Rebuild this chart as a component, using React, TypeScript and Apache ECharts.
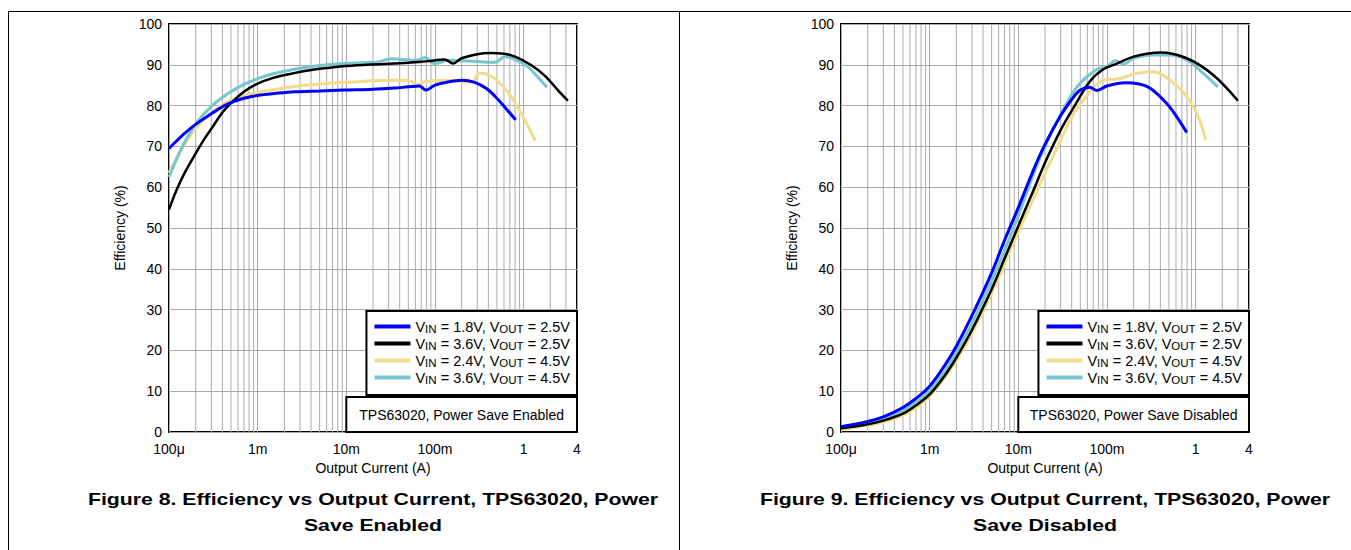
import React, { useEffect, useRef } from "react";
import * as echarts from "echarts";

const FONT = '"Liberation Sans", Arial, Helvetica, sans-serif';

const SERIES_NAMES = ["b", "k", "y", "c"];
const LEGEND_VIN = ["1.8V", "3.6V", "2.4V", "3.6V"];
const LEGEND_VOUT = ["2.5V", "2.5V", "4.5V", "4.5V"];
const COLORS = ["#0000ff", "#000000", "#f0dc8a", "#78c5cd"];

const X_TICK_VALUES = [1e-4, 1e-3, 1e-2, 1e-1, 1, 4];
const X_TICK_LABELS = ["100μ", "1m", "10m", "100m", "1", "4"];

// Figure 8 - Power Save Enabled
const blueEnabled = [
  [1e-4, 69.5], [1.2e-4, 71.2], [1.5e-4, 73.2], [2e-4, 75.4], [3e-4, 78], [4.5e-4, 80.3],
  [7e-4, 81.8], [1e-3, 82.5], [1.6e-3, 83], [2.6e-3, 83.4], [5e-3, 83.6], [9.4e-3, 83.8],
  [2e-2, 84], [3.5e-2, 84.3], [5e-2, 84.6], [6.7e-2, 84.8], [7.9e-2, 83.8], [0.1, 85],
  [0.14, 85.8], [0.2, 86.2], [0.28, 85.7], [0.38, 84.2], [0.475, 82.3], [0.62, 79.5], [0.815, 76.5],
];
const blackEnabled = [
  [1e-4, 54.5], [1.2e-4, 59], [1.5e-4, 63.5], [2e-4, 68.3], [2.5e-4, 71.8], [3e-4, 74.3],
  [4e-4, 78.3], [5e-4, 80.6], [7e-4, 83.4], [1e-3, 85.4], [1.5e-3, 86.8], [2.5e-3, 87.9],
  [4e-3, 88.7], [6e-3, 89.2], [1e-2, 89.7], [2e-2, 90.1], [5e-2, 90.5], [8.3e-2, 90.9],
  [0.128, 91.3], [0.16, 90.3], [0.2, 91.6], [0.3, 92.6], [0.42, 92.9], [0.6, 92.7], [0.8, 92],
  [1.2, 90], [1.74, 87.3], [2.5, 83.5], [3.16, 81.2],
];
const yellowEnabled = [
  [1e-4, 63.5], [1.2e-4, 67], [1.5e-4, 70.5], [2e-4, 74.3], [3e-4, 78.2], [4.5e-4, 80.8],
  [7e-4, 82.4], [1e-3, 83.2], [1.6e-3, 84], [2.6e-3, 84.7], [5e-3, 85.3], [9.4e-3, 85.7],
  [3.5e-2, 86.2], [4.9e-2, 86.2], [6.4e-2, 85.2], [7.7e-2, 85.9], [0.128, 86.2], [0.258, 85.7],
  [0.32, 88], [0.475, 86.6], [0.73, 82.1], [1.04, 76.3], [1.35, 71.4],
];
const cyanEnabled = [
  [1e-4, 62.5], [1.2e-4, 66.5], [1.5e-4, 71], [2e-4, 75.5], [3e-4, 79.8], [4.5e-4, 82.8],
  [7e-4, 85.2], [1e-3, 86.6], [1.5e-3, 87.8], [2.6e-3, 88.9], [6e-3, 90], [1.5e-2, 90.5],
  [2.26e-2, 90.7], [3.2e-2, 91.5], [5.9e-2, 91.1], [7.7e-2, 91.7], [9.9e-2, 90.3], [0.14, 91.1],
  [0.3, 90.8], [0.475, 90.6], [0.62, 92], [0.8, 91.3], [1.12, 89.5], [1.4, 87.3], [1.83, 84.5],
];

// Figure 9 - Power Save Disabled
const blueDisabled = [
  [1e-4, 1.3], [2e-4, 2.6], [3e-4, 3.7], [5e-4, 6], [7e-4, 8.2], [1e-3, 11.2], [1.5e-3, 16.5],
  [2e-3, 21], [3e-3, 28.5], [5e-3, 39], [7e-3, 47], [1e-2, 55], [1.5e-2, 64.5], [2e-2, 70.5],
  [3e-2, 77.5], [4e-2, 81.5], [5e-2, 83.8], [6.4e-2, 84.5], [7.7e-2, 83.7], [0.1, 84.8],
  [0.16, 85.6], [0.23, 85.3], [0.31, 84.2], [0.47, 80.6], [0.61, 77.3], [0.795, 73.4],
];
const blackDisabled = [
  [1e-4, 0.9], [2e-4, 1.9], [3e-4, 2.8], [5e-4, 4.5], [7e-4, 6.5], [1e-3, 9.2], [1.5e-3, 14],
  [2e-3, 18.2], [3e-3, 25], [5e-3, 35], [7e-3, 42.5], [1e-2, 50.5], [1.5e-2, 59.5], [2e-2, 66],
  [3e-2, 74], [4.2e-2, 79.5], [6.45e-2, 86], [9.1e-2, 88.9], [0.13, 90.3], [0.2, 92],
  [0.4, 93], [0.795, 91.6], [1.58, 87.5], [3.0, 81.2],
];
const yellowDisabled = [
  [1e-4, 0.7], [2e-4, 1.6], [3e-4, 2.5], [5e-4, 4.1], [7e-4, 6], [1e-3, 8.8], [1.5e-3, 13.5],
  [2e-3, 17.6], [3e-3, 24.2], [5e-3, 34], [7e-3, 41.3], [1e-2, 49], [1.5e-2, 57.5], [2e-2, 63.5],
  [3e-2, 71.5], [4.2e-2, 78], [5.5e-2, 81.5], [7.1e-2, 84.6], [0.1, 86.4], [0.119, 86.4],
  [0.216, 87.9], [0.333, 88.3], [0.51, 86.3], [0.795, 82.2], [1.07, 77.3], [1.3, 71.6],
];
const cyanDisabled = [
  [1e-4, 1.1], [2e-4, 2.2], [3e-4, 3.3], [5e-4, 5.3], [7e-4, 7.2], [1e-3, 10], [1.5e-3, 15],
  [2e-3, 19.5], [3e-3, 26.5], [5e-3, 37], [7e-3, 44.5], [1e-2, 53], [1.5e-2, 63.5], [2e-2, 70],
  [3e-2, 77.8], [4.6e-2, 84.6], [7.7e-2, 88.9], [0.1, 89.5], [0.124, 91], [0.154, 90.2],
  [0.2, 91.6], [0.333, 92.4], [0.51, 92.4], [0.795, 91.2], [1.22, 87.9], [1.78, 84.6],
];

const ENABLED = [blueEnabled, blackEnabled, yellowEnabled, cyanEnabled];
const DISABLED = [blueDisabled, blackDisabled, yellowDisabled, cyanDisabled];

const CAPTIONS = [
  "Figure 8. Efficiency vs Output Current, TPS63020, Power\nSave Enabled",
  "Figure 9. Efficiency vs Output Current, TPS63020, Power\nSave Disabled",
];
const NOTES = ["TPS63020, Power Save Enabled", "TPS63020, Power Save Disabled"];

const X_MIN = 1e-4;
const X_MAX = 4;
const Y_MIN = 0;
const Y_MAX = 100;

// minor grid positions (2..9 times each decade)
const MINOR_GRID: number[] = [];
for (let d = -4; d <= 0; d++) {
  for (let m = 2; m <= 9; m++) {
    const v = m * Math.pow(10, d);
    if (v < X_MAX) MINOR_GRID.push(v);
  }
}

const GRIDS = [
  { left: 169, top: 24, width: 408, height: 408 },
  { left: 841, top: 24, width: 408, height: 408 },
];

function xLabel(v: number) {
  let best = 0;
  let bd = Infinity;
  X_TICK_VALUES.forEach((t, i) => {
    const d = Math.abs(Math.log10(v) - Math.log10(t));
    if (d < bd) {
      bd = d;
      best = i;
    }
  });
  return bd < 0.01 ? X_TICK_LABELS[best] : "";
}

function legendFormatter(name: string) {
  const i = SERIES_NAMES.indexOf(name);
  return `{n|V}{s|IN}{n| = ${LEGEND_VIN[i]}, V}{s|OUT}{n| = ${LEGEND_VOUT[i]}}`;
}

export default function App() {
  const ref = useRef<HTMLDivElement>(null);

  useEffect(() => {
    if (!ref.current) return;
    const chart = echarts.init(ref.current, undefined, { renderer: "svg" });

    const gridColor = "#ababab";
    const series: any[] = [];
    const graphics: any[] = [];

    const minorData: any[] = [];
    MINOR_GRID.forEach((v) => {
      minorData.push([v, Y_MIN], [v, Y_MAX], [v, "-"]);
    });

    GRIDS.forEach((g, gi) => {
      series.push({
        type: "line",
        name: "minorgrid" + gi,
        xAxisIndex: gi,
        yAxisIndex: gi,
        data: minorData,
        z: 1,
        silent: true,
        showSymbol: false,
        symbol: "none",
        connectNulls: false,
        lineStyle: { color: gridColor, width: 1 },
        emphasis: { disabled: true },
      });
      const sets = gi === 0 ? ENABLED : DISABLED;
      const order = [2, 3, 1, 0];
      order.forEach((si) => {
        series.push({
          type: "line",
          name: SERIES_NAMES[si],
          xAxisIndex: gi,
          yAxisIndex: gi,
          data: sets[si],
          color: COLORS[si],
          showSymbol: false,
          symbol: "none",
          smooth: 0.35,
          z: 3,
          lineStyle: { width: si === 1 ? 2.5 : 3, color: COLORS[si] },
        });
      });

      const tenM = g.left + (2 / Math.log10(X_MAX / X_MIN)) * g.width;
      const boxW = g.left + g.width - tenM;
      graphics.push({
        type: "rect",
        z: 100,
        shape: { x: tenM, y: 397, width: boxW, height: 35 },
        style: { fill: "#fff", stroke: "#000", lineWidth: 2 },
      });
      graphics.push({
        type: "text",
        z: 101,
        x: tenM + boxW / 2,
        y: 415,
        style: {
          text: NOTES[gi],
          align: "center",
          verticalAlign: "middle",
          fontSize: 14,
          fontFamily: FONT,
          fill: "#000",
        },
      });
      graphics.push({
        type: "text",
        z: 101,
        x: g.left + g.width / 2,
        y: 486,
        scaleX: 1.25,
        style: {
          text: CAPTIONS[gi],
          align: "center",
          verticalAlign: "top",
          fontSize: 17,
          fontWeight: "bold",
          lineHeight: 26,
          fontFamily: FONT,
          fill: "#000",
        },
      });
    });

    graphics.push({
      type: "line",
      z: 100,
      shape: { x1: 8.5, y1: 11.5, x2: 1351, y2: 11.5 },
      style: { stroke: "#000", lineWidth: 1 },
    });
    graphics.push({
      type: "line",
      z: 100,
      shape: { x1: 8.5, y1: 11.5, x2: 8.5, y2: 550 },
      style: { stroke: "#000", lineWidth: 1 },
    });
    graphics.push({
      type: "line",
      z: 100,
      shape: { x1: 679.5, y1: 11.5, x2: 679.5, y2: 550 },
      style: { stroke: "#000", lineWidth: 1 },
    });

    const legendText = {
      fontSize: 14.5,
      fontFamily: FONT,
      color: "#000",
      rich: {
        n: { fontSize: 14.5, fontFamily: FONT, color: "#000", lineHeight: 17, verticalAlign: "middle" },
        s: { fontSize: 11.5, fontFamily: FONT, color: "#000", lineHeight: 8, verticalAlign: "bottom" },
      },
    };

    chart.setOption({
      animation: false,
      backgroundColor: "#fff",
      grid: GRIDS.map((g) => ({
        ...g,
        show: true,
        borderColor: "#000",
        borderWidth: 2,
        backgroundColor: "#fff",
        containLabel: false,
      })),
      xAxis: GRIDS.map((_, gi) => ({
        type: "log",
        logBase: 10,
        min: X_MIN,
        max: X_MAX,
        gridIndex: gi,
        axisLine: { show: false },
        axisTick: { show: false },
        axisLabel: {
          formatter: xLabel,
          color: "#000",
          fontSize: 14,
          fontFamily: FONT,
          margin: 10,
          showMinLabel: true,
          showMaxLabel: true,
          hideOverlap: false,
        },
        splitLine: { show: true, lineStyle: { color: gridColor, width: 1 } },
        name: "Output Current (A)",
        nameLocation: "middle",
        nameGap: 29,
        nameTextStyle: { color: "#000", fontSize: 14, fontFamily: FONT },
      })),
      yAxis: GRIDS.map((_, gi) => ({
        type: "value",
        min: Y_MIN,
        max: Y_MAX,
        interval: 10,
        gridIndex: gi,
        axisLine: { show: false },
        axisTick: { show: false },
        axisLabel: { color: "#000", fontSize: 14, fontFamily: FONT, margin: 7 },
        splitLine: { show: true, lineStyle: { color: gridColor, width: 1 } },
        name: "Efficiency (%)",
        nameLocation: "middle",
        nameGap: 42,
        nameRotate: 90,
        nameTextStyle: { color: "#000", fontSize: 14, fontFamily: FONT },
      })),
      legend: GRIDS.map((g) => ({
        orient: "vertical",
        right: 1351 - (g.left + g.width),
        top: 311,
        itemWidth: 36,
        itemHeight: 4,
        itemGap: 1,
        padding: [8, 7, 9, 8],
        borderColor: "#000",
        borderWidth: 2,
        borderRadius: 0,
        backgroundColor: "#fff",
        icon: "rect",
        selectedMode: false,
        data: SERIES_NAMES,
        formatter: legendFormatter,
        textStyle: legendText,
        z: 50,
      })),
      series,
      graphic: { elements: graphics },
    });

    return () => chart.dispose();
  }, []);

  return (
    <div
      ref={ref}
      style={{ position: "absolute", left: 0, top: 0, width: 1351, height: 550, background: "#fff" }}
    />
  );
}
